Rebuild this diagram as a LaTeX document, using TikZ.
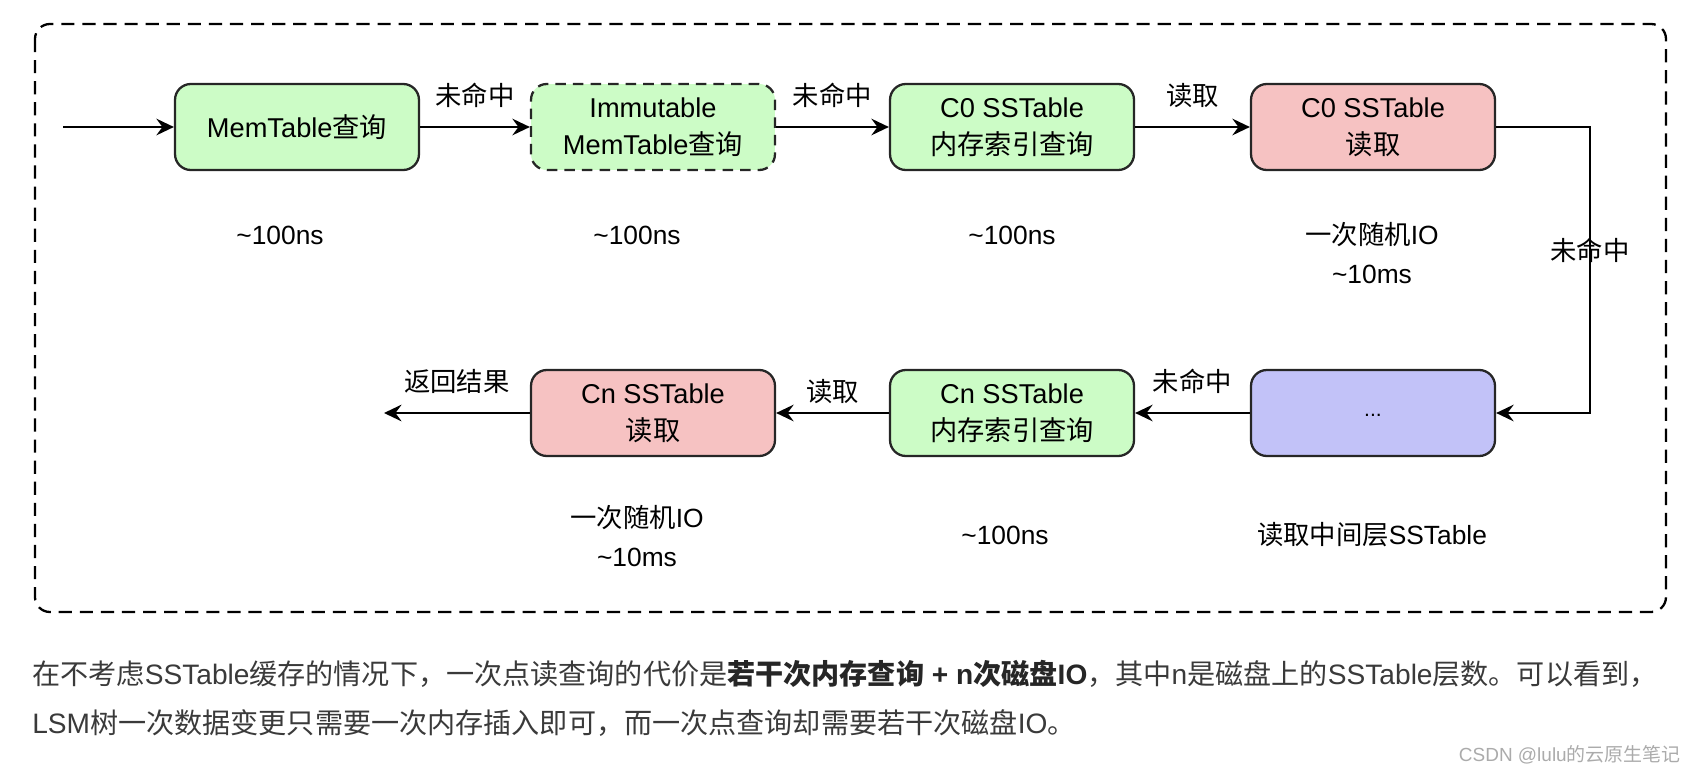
\documentclass[tikz,border=0pt]{standalone}
\usepackage{fontspec}
\setmainfont{Liberation Sans}
\newfontfamily\cjk{Noto Sans CJK SC}
\newcommand{\zh}[1]{{\cjk #1}}
\usetikzlibrary{arrows.meta}
\definecolor{hitgreen}{HTML}{CCFCC6}
\definecolor{ioread}{HTML}{F6C2C2}
\definecolor{midlayer}{HTML}{C2C2F8}
\definecolor{captext}{HTML}{3A3A3A}
\definecolor{marktext}{HTML}{ABABAB}
\tikzset{
	stage/.style={draw=black!85, line width=1.3pt, rounded corners=9pt, minimum width=4.88cm, minimum height=1.72cm, inner sep=0pt, align=center, font=\fontsize{15.5}{21}\selectfont},
	flow/.style={line width=1.1pt, -{Stealth[length=10pt,width=9.5pt,inset=3.5pt]}},
	tag/.style={align=center, font=\fontsize{15}{22}\selectfont},
}
\begin{document}
\begin{tikzpicture}[x=0.02cm, y=0.02cm]
				\useasboundingbox (0,0) rectangle (1698,-774);
				\draw[line width=1.3pt, dash pattern=on 7.5pt off 4.5pt, rounded corners=8.5pt] (35,-24) rectangle (1666,-612);
				
				\node[stage, fill=hitgreen] (memq) at (297,-127) {MemTable\zh{查询}};
				\node[stage, fill=hitgreen, dash pattern=on 6pt off 4pt] (immq) at (653,-127) {Immutable\\MemTable\zh{查询}};
				\node[stage, fill=hitgreen] (czidx) at (1012,-127) {C0 SSTable\\\zh{内存索引查询}};
				\node[stage, fill=ioread] (czread) at (1373,-127) {C0 SSTable\\\zh{读取}};
				\node[stage, fill=midlayer] (midl) at (1373,-413) {\raisebox{-4pt}{\fontsize{12}{12}\selectfont ...}};
				\node[stage, fill=hitgreen] (cnidx) at (1012,-413) {Cn SSTable\\\zh{内存索引查询}};
				\node[stage, fill=ioread] (cnread) at (653,-413) {Cn SSTable\\\zh{读取}};
				
				\coordinate (entry) at (63,-127);
				\coordinate (turn) at (1590,-127);
				\coordinate (exit) at (384,-413);
				
				\draw[flow] (entry) -- (memq);
				\draw[flow] (memq) -- node[tag, yshift=18pt]{\zh{未命中}} (immq);
				\draw[flow] (immq) -- node[tag, yshift=18pt]{\zh{未命中}} (czidx);
				\draw[flow] (czidx) -- node[tag, yshift=18pt]{\zh{读取}} (czread);
				\draw[flow] (czread) -- (turn) |- node[tag, pos=0.215]{\zh{未命中}} (midl);
				\draw[flow] (midl) -- node[tag, yshift=18pt]{\zh{未命中}} (cnidx);
				\draw[flow] (cnidx) -- node[tag, yshift=12pt]{\zh{读取}} (cnread);
				\draw[flow] (cnread) -- node[tag, yshift=18pt]{\zh{返回结果}} (exit);
				
				\node[tag] (memcost) at (280,-235) {\textasciitilde100ns};
				\node[tag] (immcost) at (637,-235) {\textasciitilde100ns};
				\node[tag] (czidxcost) at (1012,-235) {\textasciitilde100ns};
				\node[tag] (czreadcost) at (1372,-253) {\zh{一次随机}IO\\\textasciitilde10ms};
				\node[tag] (cnreadcost) at (637,-536) {\zh{一次随机}IO\\\textasciitilde10ms};
				\node[tag] (cnidxcost) at (1005,-535) {\textasciitilde100ns};
				\node[tag] (midcost) at (1372,-535) {\zh{读取中间层}SSTable};
				
				\node[anchor=west, inner sep=0pt, text=captext, font=\fontsize{16}{20}\selectfont] (remark1) at (32,-674) {\zh{在不考虑}SSTable\zh{缓存的情况下，一次点读查询的代价是}{\bfseries\color{black!85}\zh{若干次内存查询} + n\zh{次磁盘}IO}\zh{，其中}n\zh{是磁盘上的}SSTable\zh{层数。可以看到，}};
				\node[anchor=west, inner sep=0pt, text=captext, font=\fontsize{16}{20}\selectfont] (remark2) at (32,-723) {LSM\zh{树一次数据变更只需要一次内存插入即可，而一次点查询却需要若干次磁盘}IO\zh{。}};
				\node[anchor=east, inner sep=0pt, text=marktext, font=\fontsize{10.8}{13}\selectfont] (mark) at (1681,-755) {CSDN @lulu\zh{的云原生笔记}};
			\end{tikzpicture}
\end{document}
